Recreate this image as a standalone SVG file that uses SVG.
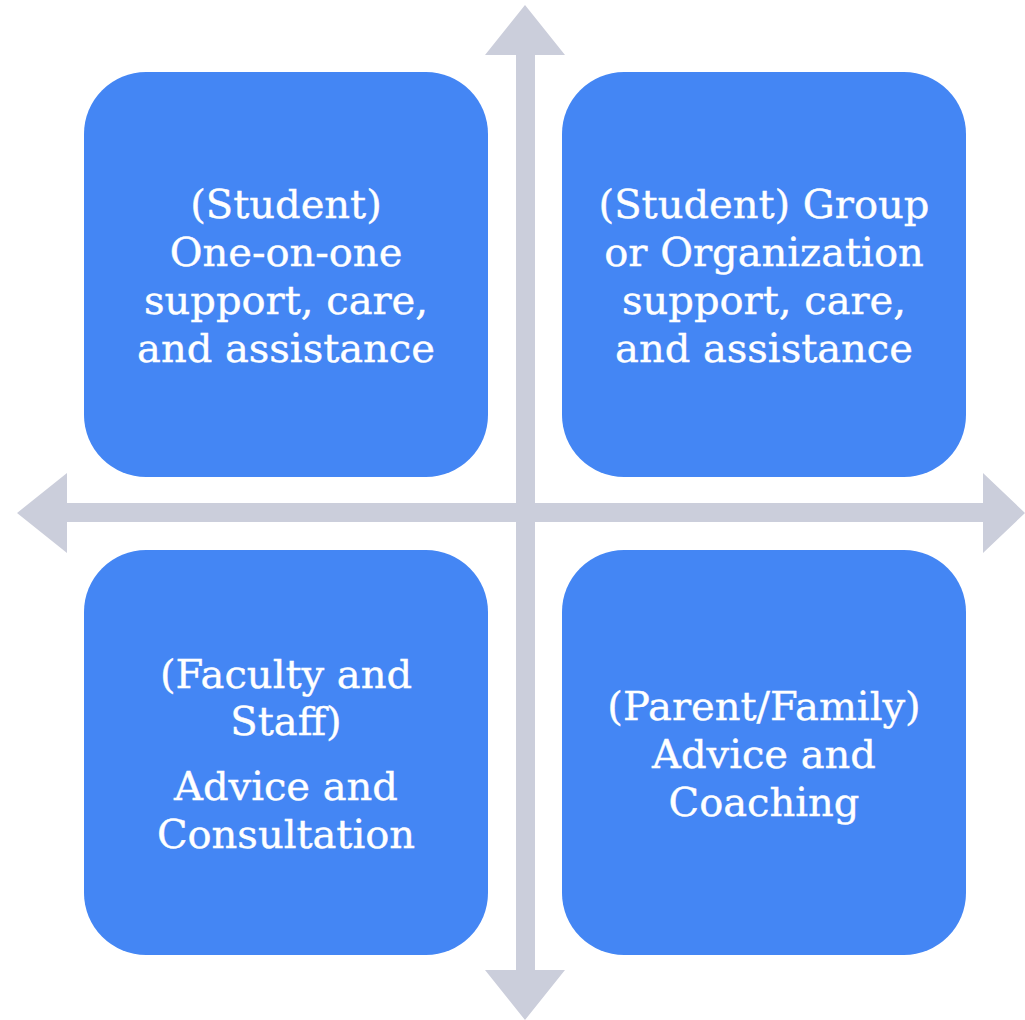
<svg xmlns="http://www.w3.org/2000/svg" width="1025" height="1020" viewBox="0 0 1025 1020">
<style>
.box{fill:#4486F4;}
.arrow{fill:#CBCEDB;}
text{font-family:"DejaVu Serif","Liberation Serif",serif;font-size:40px;fill:#FFFFFF;text-anchor:middle;stroke:#FFFFFF;stroke-width:0.4px;}
</style>
<rect width="1025" height="1020" fill="#FFFFFF"/>
<g id="connectors">
<polygon class="arrow" points="525,5 565,55 535,55 535,970 565,970 525,1020 485,970 516,970 516,55 485,55"/>
<polygon class="arrow" points="17,513 67,473 67,503 983,503 983,473 1025,513 983,553 983,522 67,522 67,553"/>
</g>
<g id="node-tl">
<rect class="box" x="84" y="72" width="404" height="405" rx="62"/>
<text x="286" y="218">(Student)</text>
<text x="286" y="266">One-on-one</text>
<text x="286" y="314">support, care,</text>
<text x="286" y="362">and assistance</text>
</g>
<g id="node-tr">
<rect class="box" x="562" y="72" width="404" height="405" rx="62"/>
<text x="764" y="218">(Student) Group</text>
<text x="764" y="266">or Organization</text>
<text x="764" y="314">support, care,</text>
<text x="764" y="362">and assistance</text>
</g>
<g id="node-bl">
<rect class="box" x="84" y="550" width="404" height="405" rx="62"/>
<text x="286" y="688">(Faculty and</text>
<text x="286" y="735">Staff)</text>
<text x="286" y="800">Advice and</text>
<text x="286" y="848">Consultation</text>
</g>
<g id="node-br">
<rect class="box" x="562" y="550" width="404" height="405" rx="62"/>
<text x="764" y="720">(Parent/Family)</text>
<text x="764" y="768">Advice and</text>
<text x="764" y="816">Coaching</text>
</g>
</svg>
